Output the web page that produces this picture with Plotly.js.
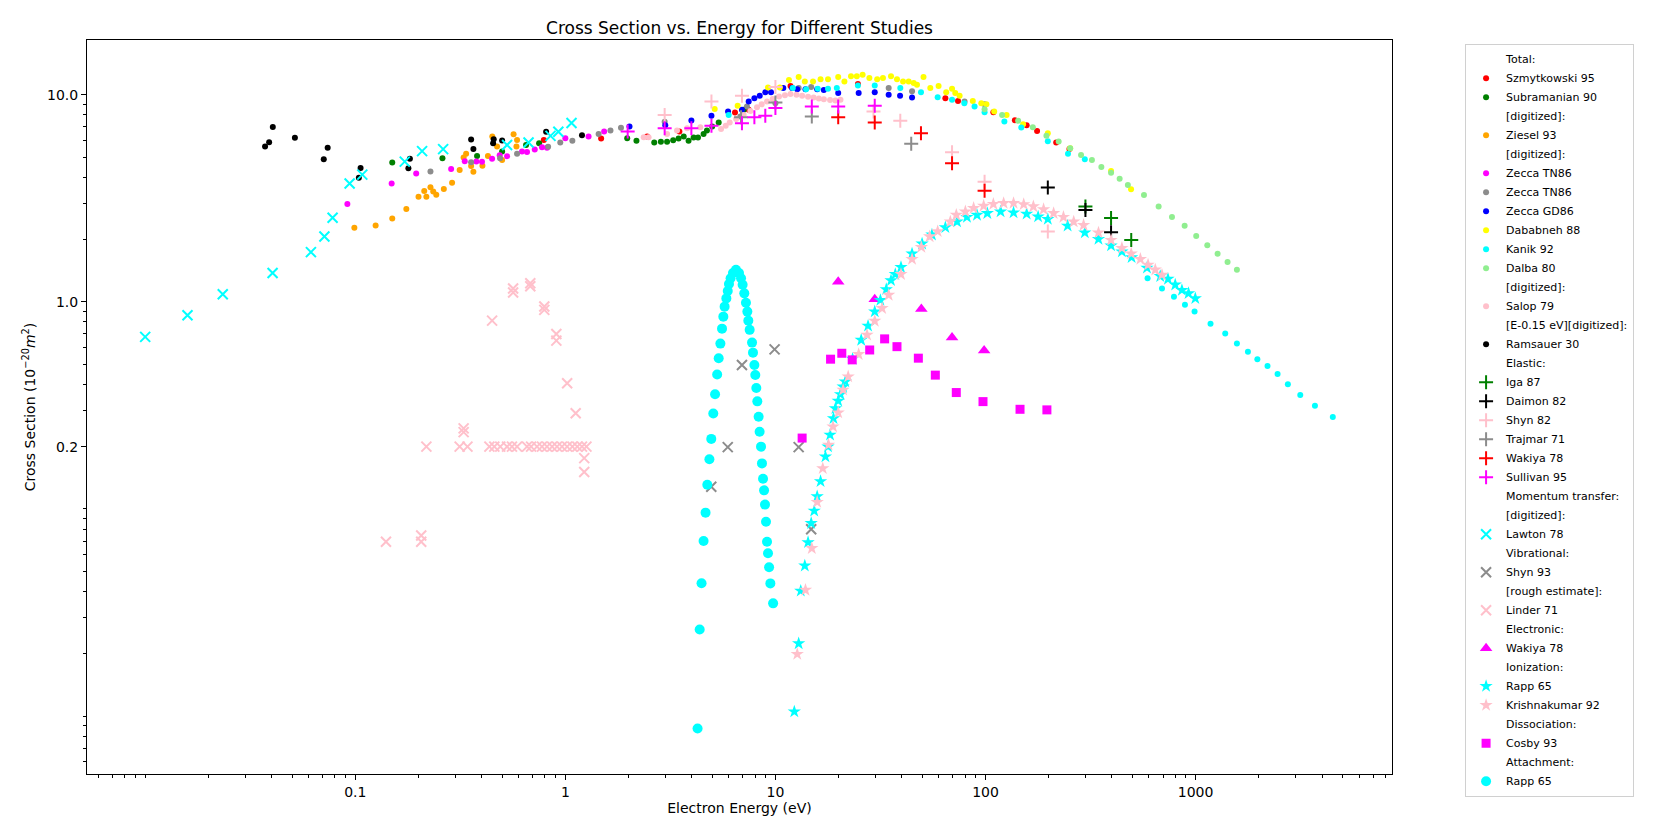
<!DOCTYPE html>
<html>
<head>
<meta charset="utf-8">
<script src="https://cdn.plot.ly/plotly-3.0.1.min.js"></script>
<style>
  body { margin: 0; background: #fff; }
  #cs_plot { width: 1654px; height: 819px; }
</style>
</head>
<body>
<div id="cs_plot"></div>
<script>
/* energies in eV, cross sections in 1e-20 m^2 */

// total
const szmytkowski_e = [0.79, 1.48, 2.45, 3.49, 6.42, 7.46, 11.8, 24.7, 64.4, 74, 109, 138, 157, 176, 217, 251];
const szmytkowski_cs = [6.06, 6.15, 6.29, 6.65, 8.22, 8.47, 11.05, 11.3, 9.64, 9.33, 8.25, 7.55, 7.14, 6.7, 5.89, 5.47];

const subramanian_e = [0.15, 0.26, 0.38, 0.5, 0.65, 0.75, 1.97, 2.18, 2.65, 2.85, 3.05, 3.26, 3.46, 3.66, 3.86, 4.08, 4.28, 4.55, 4.72, 5.0, 5.37, 7.06];
const subramanian_cs = [4.71, 4.94, 5.07, 5.32, 5.73, 5.84, 6.18, 6.0, 5.89, 5.93, 5.93, 6.04, 6.15, 6.29, 6.0, 6.23, 6.23, 6.48, 6.72, 7.03, 7.35, 8.47];

const ziesel_e = [0.099, 0.125, 0.150, 0.175, 0.200, 0.213, 0.218, 0.228, 0.235, 0.243, 0.264, 0.289, 0.314, 0.328, 0.337, 0.356, 0.365, 0.403, 0.428, 0.449, 0.473, 0.50, 0.567, 0.585, 0.589];
const ziesel_cs = [2.28, 2.34, 2.53, 2.81, 3.22, 3.43, 3.22, 3.58, 3.41, 3.29, 3.51, 3.76, 4.34, 4.98, 5.20, 4.54, 4.25, 4.55, 5.07, 6.29, 5.63, 4.85, 6.46, 5.63, 6.06];

const zecca_tn_a_e = [0.0917, 0.149, 0.195, 0.286, 0.332, 0.377, 0.401, 0.448, 0.487, 0.528, 0.622, 0.657, 0.715, 0.774, 0.818, 1.0, 1.29, 1.53];
const zecca_tn_a_cs = [2.97, 3.73, 4.17, 4.39, 4.78, 4.77, 4.75, 4.92, 5.11, 5.06, 5.32, 5.30, 5.44, 5.59, 5.55, 6.18, 6.29, 6.65];

const zecca_tn_b_e = [0.228, 0.356, 0.489, 0.589, 0.828, 0.946, 1.08, 1.44, 1.64, 1.84, 2.97, 6.81, 7.32, 10.0, 12.9, 14.8, 34.6, 44.7, 79.5, 99];
const zecca_tn_b_cs = [4.27, 4.73, 4.94, 5.20, 5.61, 5.89, 6.0, 6.48, 6.72, 6.93, 7.41, 7.86, 8.78, 9.1, 10.8, 10.9, 10.8, 10.4, 9.28, 9.02];

const zecca_gd_e = [2.02, 2.99, 3.98, 4.96, 5.95, 6.93, 7.46, 7.94, 8.42, 8.95, 9.53, 10.9, 12.0, 12.7, 13.9, 15.8, 17.0, 19.9, 24.9, 29.7, 34.6, 39.2, 44.7];
const zecca_gd_cs = [7.03, 7.14, 7.51, 7.92, 8.3, 8.47, 9.28, 9.64, 9.89, 10.3, 10.3, 10.8, 10.8, 10.65, 10.65, 10.65, 10.57, 10.2, 10.2, 10.3, 10.0, 9.9, 9.7];

const dababneh_e = [5.14, 6.61, 9.22, 10.5, 11.6, 12.9, 13.8, 15.1, 16.4, 17.8, 19.9, 21.3, 22.9, 24.4, 26.0, 28.0, 30.5, 32.5, 35.5, 37.9, 40.5, 43.1, 45.5, 47.2, 50.7, 54.6, 59.8, 65, 69.3, 71.8, 75.3, 87, 95.5, 101, 110, 126, 151, 198, 253, 396, 493];
const dababneh_cs = [8.55, 8.85, 10.85, 10.85, 11.8, 12.2, 11.6, 11.6, 11.9, 11.9, 12.2, 11.6, 12.3, 12.3, 12.5, 12.05, 11.9, 12.05, 12.3, 11.9, 11.6, 11.6, 11.4, 11.2, 12.2, 10.8, 11.05, 10.3, 10.7, 10.2, 9.89, 9.35, 9.12, 9.02, 8.3, 8.0, 7.22, 6.53, 5.53, 4.29, 3.5];

const kanik_e = [5.99, 12.1, 14.0, 15.9, 17.8, 19.6, 24.7, 29.7, 39.3, 49.3, 59.2, 69.3, 79.3, 88.7, 99, 123, 148, 198, 247, 297, 591, 692, 789, 890, 989, 1178, 1384, 1573, 1775, 1968, 2200, 2457, 2750, 3150, 3700, 4500];
const kanik_cs = [8.0, 10.8, 10.65, 10.7, 10.7, 10.8, 11.1, 11.1, 10.8, 10.3, 9.75, 9.46, 9.12, 8.78, 8.25, 7.43, 6.95, 5.97, 5.19, 4.89, 1.30, 1.16, 1.06, 0.97, 0.90, 0.785, 0.703, 0.63, 0.574, 0.529, 0.49, 0.448, 0.40, 0.355, 0.315, 0.278];

const dalba_e = [99, 120, 143, 168, 195, 223, 253, 285, 321, 356, 396, 435, 476, 568, 667, 772, 887, 1007, 1137, 1273, 1420, 1573];
const dalba_cs = [8.53, 8.0, 7.49, 6.98, 6.34, 5.95, 5.53, 5.13, 4.85, 4.48, 4.21, 3.93, 3.67, 3.28, 2.89, 2.57, 2.33, 2.08, 1.88, 1.71, 1.56, 1.43];

const salop_e = [2.36, 2.49, 3.05, 3.40, 3.80, 4.39, 5.51, 5.8, 6.06, 6.5, 7.06, 7.6, 8.17, 8.6, 9.12, 9.7, 10.4, 11.1, 11.8, 12.6, 13.4, 14.3, 15.2, 16.1, 17.0, 18.2, 19.3, 20.4];
const salop_cs = [6.25, 6.25, 6.48, 6.72, 6.9, 6.98, 6.85, 7.1, 7.35, 7.65, 8.0, 8.35, 8.72, 9.0, 9.28, 9.55, 9.82, 9.95, 10.1, 10.0, 9.89, 9.8, 9.7, 9.6, 9.53, 9.45, 9.38, 9.46];

const ramsauer_e = [0.0372, 0.0389, 0.0405, 0.0516, 0.0708, 0.0739, 0.104, 0.106, 0.179, 0.182, 0.356, 0.365, 0.453, 0.456, 0.50, 0.81, 1.20];
const ramsauer_cs = [5.63, 5.91, 7.0, 6.2, 4.89, 5.56, 3.98, 4.44, 4.42, 4.91, 6.08, 5.47, 5.84, 6.1, 6.02, 6.63, 6.39];

// elastic
const iga_e = [299, 396, 494];
const iga_cs = [2.89, 2.54, 1.99];
const daimon_e = [198, 299, 396];
const daimon_cs = [3.57, 2.78, 2.17];
const shyn82_e = [2.97, 4.96, 6.93, 10.0, 29.3, 39.3, 69.3, 99, 198];
const shyn82_cs = [8.0, 9.28, 9.89, 10.9, 8.3, 7.49, 5.28, 3.81, 2.19];
const trajmar_e = [6.86, 10.0, 14.9, 44.3];
const trajmar_cs = [7.8, 9.18, 7.86, 5.8];
const wakiya_el_e = [19.9, 29.7, 49.3, 69.3, 99];
const wakiya_el_cs = [7.8, 7.35, 6.53, 4.68, 3.44];
const sullivan_e = [1.98, 2.97, 3.98, 4.96, 6.93, 7.94, 8.95, 10.0, 14.9, 19.9, 29.7];
const sullivan_cs = [6.65, 6.9, 6.9, 7.1, 7.3, 7.8, 7.92, 8.63, 8.78, 8.78, 8.85];

// momentum transfer
const lawton_e = [0.0100, 0.0159, 0.0234, 0.0404, 0.0615, 0.0713, 0.078, 0.094, 0.108, 0.172, 0.208, 0.262, 0.528, 0.668, 0.85, 0.926, 1.07];
const lawton_cs = [0.678, 0.863, 1.09, 1.38, 1.74, 2.07, 2.55, 3.73, 4.12, 4.76, 5.35, 5.47, 5.73, 5.89, 6.34, 6.63, 7.32];

// vibrational
const shyn93_e = [4.95, 5.93, 6.93, 9.91, 12.9, 14.8];
const shyn93_cs = [0.128, 0.199, 0.496, 0.59, 0.199, 0.0798];
const linder_e = [0.14, 0.206, 0.206, 0.218, 0.314, 0.342, 0.328, 0.328, 0.435, 0.448, 0.459, 0.49, 0.528, 0.557, 0.564, 0.564, 0.589, 0.657, 0.681, 0.681, 0.687, 0.733, 0.774, 0.794, 0.794, 0.818, 0.865, 0.906, 0.906, 0.913, 0.964, 1.02, 1.02, 1.08, 1.12, 1.14, 1.2, 1.23, 1.23, 1.26];
const linder_cs = [0.0695, 0.0745, 0.0695, 0.2, 0.2, 0.2, 0.245, 0.235, 0.2, 0.812, 0.2, 0.2, 0.2, 0.2, 1.11, 1.16, 0.2, 0.2, 1.23, 1.19, 0.2, 0.2, 0.2, 0.915, 0.95, 0.2, 0.2, 0.70, 0.65, 0.2, 0.2, 0.405, 0.2, 0.2, 0.29, 0.2, 0.2, 0.176, 0.151, 0.2];

// electronic
const wakiya_ex_e = [19.9, 29.7, 49.5, 69.3, 98.5];
const wakiya_ex_cs = [1.25, 1.03, 0.925, 0.673, 0.582];

// ionization
const rapp_ion_e = [12.3, 12.9, 13.2, 13.8, 14.3, 14.8, 15.3, 15.8, 16.4, 17.3, 17.8, 18.2, 18.9, 19.3, 19.9, 20.4, 21.0, 21.5, 23.3, 25.6, 27.6, 29.7, 31.6, 33.7, 35.5, 37.2, 39.6, 44.7, 49.9, 55.6, 64.4, 73.2, 81.6, 91.1, 102, 118, 136, 157, 178, 198, 246, 297, 345, 396, 446, 496, 587, 679, 739, 800, 861, 926, 997];
const rapp_ion_cs = [0.0105, 0.0224, 0.0402, 0.0532, 0.069, 0.0853, 0.098, 0.115, 0.136, 0.179, 0.200, 0.228, 0.274, 0.306, 0.333, 0.358, 0.390, 0.412, 0.53, 0.655, 0.766, 0.898, 1.02, 1.15, 1.27, 1.36, 1.47, 1.71, 1.91, 2.11, 2.29, 2.44, 2.57, 2.63, 2.68, 2.73, 2.70, 2.66, 2.58, 2.51, 2.33, 2.16, 2.01, 1.87, 1.75, 1.64, 1.46, 1.33, 1.29, 1.21, 1.14, 1.10, 1.04];
const krishnakumar_e = [12.7, 13.9, 14.9, 15.8, 16.8, 17.9, 18.8, 19.9, 21.0, 22.2, 24.9, 27.3, 29.7, 32.2, 34.6, 39.6, 44.7, 49.5, 54.2, 59.2, 68, 72.6, 80.2, 87.8, 98, 109, 122, 136, 152, 169, 189, 211, 235, 263, 293, 345, 396, 446, 494, 546, 594, 643, 692];
const krishnakumar_cs = [0.0199, 0.0406, 0.0646, 0.108, 0.157, 0.204, 0.25, 0.292, 0.376, 0.436, 0.559, 0.693, 0.809, 0.932, 1.08, 1.36, 1.61, 1.84, 2.07, 2.19, 2.44, 2.63, 2.73, 2.84, 2.91, 2.97, 3.0, 3.0, 2.96, 2.89, 2.8, 2.68, 2.57, 2.44, 2.35, 2.16, 1.99, 1.82, 1.71, 1.61, 1.51, 1.43, 1.35];

// dissociation
const cosby_e = [13.4, 18.3, 20.7, 23.2, 28.1, 33.1, 37.9, 47.9, 57.7, 72.6, 97.3, 146, 196];
const cosby_cs = [0.22, 0.529, 0.565, 0.525, 0.586, 0.663, 0.608, 0.535, 0.443, 0.365, 0.33, 0.303, 0.301];

// attachment
const rapp_att_e = [4.26, 4.36, 4.45, 4.55, 4.65, 4.74, 4.85, 4.95, 5.06, 5.16, 5.28, 5.37, 5.47, 5.57, 5.65, 5.73, 5.84, 5.93, 6.01, 6.12, 6.28, 6.49, 6.71, 6.86, 6.98, 7.11, 7.24, 7.35, 7.43, 7.54, 7.74, 7.82, 7.94, 8.02, 8.11, 8.20, 8.32, 8.41, 8.54, 8.63, 8.73, 8.83, 8.92, 9.02, 9.12, 9.22, 9.33, 9.46, 9.75];
const rapp_att_cs = [0.0087, 0.0262, 0.0438, 0.070, 0.096, 0.131, 0.174, 0.218, 0.289, 0.358, 0.446, 0.535, 0.629, 0.743, 0.849, 0.949, 1.04, 1.13, 1.22, 1.30, 1.38, 1.43, 1.38, 1.30, 1.21, 1.10, 0.99, 0.898, 0.812, 0.733, 0.636, 0.569, 0.496, 0.444, 0.384, 0.331, 0.279, 0.236, 0.200, 0.166, 0.140, 0.123, 0.105, 0.0868, 0.0695, 0.0611, 0.0523, 0.0437, 0.035];

const x_tick_vals = [0.1, 1, 10, 100, 1000];
const x_tick_text = ["0.1", "1", "10", "100", "1000"];
const y_tick_vals = [0.2, 1, 10];
const y_tick_text = ["0.2", "1.0", "10.0"];

const font_family = "DejaVu Sans, sans-serif";

function header(label)
{
    // legend-only text line, no marker
    return {type: "scatter", mode: "markers", name: label, x: [null], y: [null],
            marker: {color: "rgba(0,0,0,0)", size: 6}, hoverinfo: "skip"};
}

function dots(label, x, y, color, size=6)
{
    return {type: "scatter", mode: "markers", name: label, x: x, y: y,
            marker: {color: color, size: size, line: {width: 0}}};
}

function thin(label, x, y, color, symbol, size=10)
{
    return {type: "scatter", mode: "markers", name: label, x: x, y: y,
            marker: {symbol: symbol, color: color, size: size, line: {color: color, width: 2}}};
}

function filled(label, x, y, color, symbol, size)
{
    return {type: "scatter", mode: "markers", name: label, x: x, y: y,
            marker: {symbol: symbol, color: color, size: size, line: {width: 0}}};
}

function minor_ticks(lo, hi, skip)
{
    let vals = [];
    for (let p = lo; p <= hi; p++) {
        for (let m = 1; m < 10; m++) {
            const v = m * Math.pow(10, p);
            if (!skip.some((s) => Math.abs(s - v) / v < 1e-6))
                vals.push(v);
        }
    }
    return vals;
}

const traces = [
    header("Total:"),
    dots("Szmytkowski 95", szmytkowski_e, szmytkowski_cs, "#ff0000"),
    dots("Subramanian 90", subramanian_e, subramanian_cs, "#008000"),
    header("[digitized]:"),
    dots("Ziesel 93", ziesel_e, ziesel_cs, "#ffa500"),
    header("[digitized]:"),
    dots("Zecca TN86", zecca_tn_a_e, zecca_tn_a_cs, "#ff00ff"),
    dots("Zecca TN86", zecca_tn_b_e, zecca_tn_b_cs, "#8c8c8c"),
    dots("Zecca GD86", zecca_gd_e, zecca_gd_cs, "#0000ff"),
    dots("Dababneh 88", dababneh_e, dababneh_cs, "#ffff00"),
    dots("Kanik 92", kanik_e, kanik_cs, "#00ffff"),
    dots("Dalba 80", dalba_e, dalba_cs, "#90ee90"),
    header("[digitized]:"),
    dots("Salop 79", salop_e, salop_cs, "#ffc0cb"),
    header("[E-0.15 eV][digitized]:"),
    dots("Ramsauer 30", ramsauer_e, ramsauer_cs, "#000000"),
    header("Elastic:"),
    thin("Iga 87", iga_e, iga_cs, "#008000", "cross-thin"),
    thin("Daimon 82", daimon_e, daimon_cs, "#000000", "cross-thin"),
    thin("Shyn 82", shyn82_e, shyn82_cs, "#ffc0cb", "cross-thin"),
    thin("Trajmar 71", trajmar_e, trajmar_cs, "#8c8c8c", "cross-thin"),
    thin("Wakiya 78", wakiya_el_e, wakiya_el_cs, "#ff0000", "cross-thin"),
    thin("Sullivan 95", sullivan_e, sullivan_cs, "#ff00ff", "cross-thin"),
    header("Momentum transfer:"),
    header("[digitized]:"),
    thin("Lawton 78", lawton_e, lawton_cs, "#00ffff", "x-thin"),
    header("Vibrational:"),
    thin("Shyn 93", shyn93_e, shyn93_cs, "#8c8c8c", "x-thin"),
    header("[rough estimate]:"),
    thin("Linder 71", linder_e, linder_cs, "#ffc0cb", "x-thin"),
    header("Electronic:"),
    filled("Wakiya 78", wakiya_ex_e, wakiya_ex_cs, "#ff00ff", "triangle-up", 11),
    header("Ionization:"),
    filled("Rapp 65", rapp_ion_e, rapp_ion_cs, "#00ffff", "star", 10),
    filled("Krishnakumar 92", krishnakumar_e, krishnakumar_cs, "#ffc0cb", "star", 10),
    header("Dissociation:"),
    filled("Cosby 93", cosby_e, cosby_cs, "#ff00ff", "square", 9),
    header("Attachment:"),
    dots("Rapp 65", rapp_att_e, rapp_att_cs, "#00ffff", 10),
];

const axis_common = {
    type: "log", showgrid: false, zeroline: false, showline: true, mirror: true,
    linecolor: "#000", linewidth: 1, ticks: "outside", ticklen: 5, tickwidth: 1, tickcolor: "#000",
    tickfont: {family: font_family, size: 14, color: "#000"}, automargin: false,
};

const layout = {
    width: 1654, height: 819,
    margin: {l: 87, r: 262, t: 40, b: 45},
    paper_bgcolor: "#fff", plot_bgcolor: "#fff",
    font: {family: font_family, color: "#000"},
    title: {text: "Cross Section vs. Energy for Different Studies", font: {family: font_family, size: 17},
            x: (87 + 1392) / 2 / 1654, xanchor: "center", y: 1 - 28 / 819, yanchor: "middle"},
    xaxis: Object.assign({}, axis_common, {
        range: [-2.277, 3.935], tickmode: "array", tickvals: x_tick_vals, ticktext: x_tick_text,
        minor: {tickmode: "array", tickvals: minor_ticks(-3, 3, x_tick_vals), ticks: "outside", ticklen: 3, tickcolor: "#000"},
        title: {text: "Electron Energy (eV)", font: {family: font_family, size: 14}, standoff: 4},
    }),
    yaxis: Object.assign({}, axis_common, {
        range: [-2.28, 1.265], tickmode: "array", tickvals: y_tick_vals, ticktext: y_tick_text,
        minor: {tickmode: "array", tickvals: minor_ticks(-3, 1, y_tick_vals), ticks: "outside", ticklen: 3, tickcolor: "#000"},
        title: {text: "Cross Section (10<sup>\u221220</sup><i>m</i><sup>2</sup>)", font: {family: font_family, size: 14}, standoff: 8},
    }),
    showlegend: true,
    legend: {x: 1.056, xanchor: "left", y: 0.995, yanchor: "top", maxheight: 810,
             font: {family: font_family, size: 11, color: "#000"},
             bordercolor: "#d0d0d0", borderwidth: 1, bgcolor: "#fff", itemsizing: "trace"},
};

Plotly.newPlot("cs_plot", traces, layout, {displayModeBar: false, staticPlot: true});
</script>
</body>
</html>
